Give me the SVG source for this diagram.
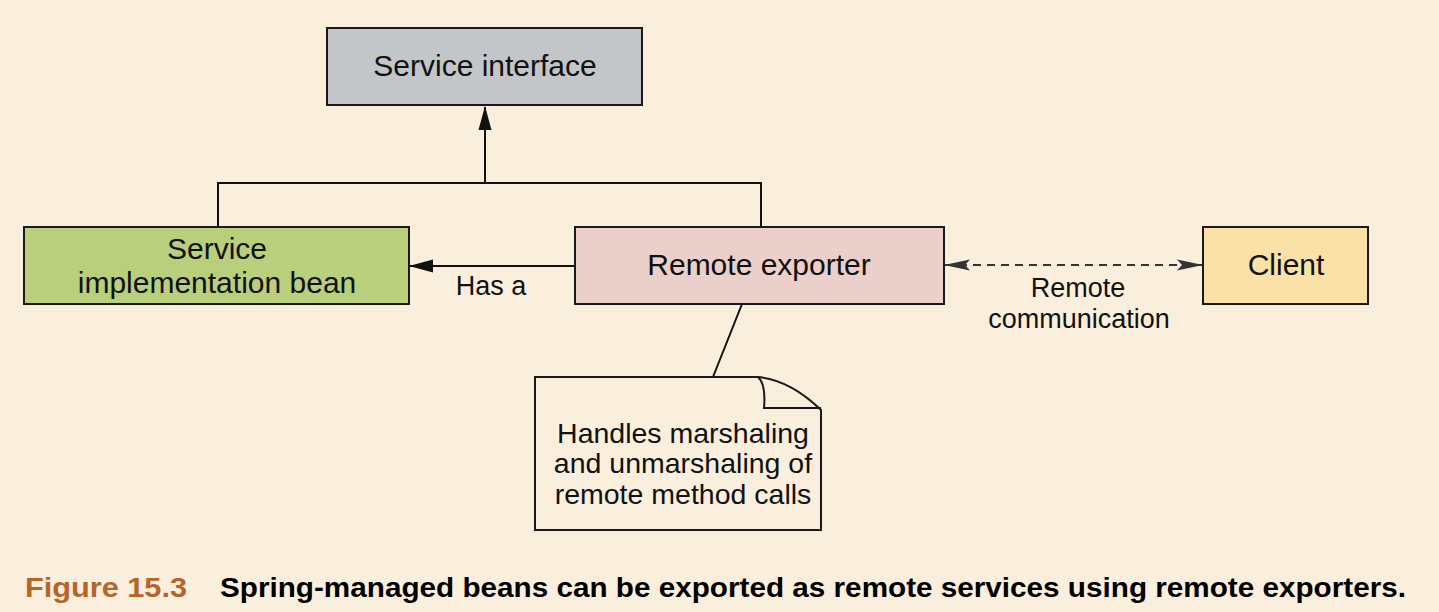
<svg xmlns="http://www.w3.org/2000/svg" width="1439" height="612" viewBox="0 0 1439 612">
<style>
.box{stroke:#1a1a1a;stroke-width:2}
.t{font-family:"Liberation Sans",Arial,sans-serif;font-size:30px;fill:#111;text-anchor:middle}
.s{font-family:"Liberation Sans",Arial,sans-serif;font-size:27px;fill:#111;text-anchor:middle}
.n{font-family:"Liberation Sans",Arial,sans-serif;font-size:28.5px;fill:#111;text-anchor:middle}
.ln{stroke:#111;stroke-width:2;fill:none}
.cap{font-family:"Liberation Sans Narrow","Liberation Sans",Arial,sans-serif;font-weight:bold;font-size:28px}
</style>
<defs>
<marker id="ah" markerWidth="24" markerHeight="14" refX="23" refY="7" orient="auto" markerUnits="userSpaceOnUse">
<path d="M0,0.5 L24,7 L0,13.5 Z" fill="#111"/>
</marker>
<marker id="ad" markerWidth="26" markerHeight="14" refX="25" refY="7" orient="auto-start-reverse" markerUnits="userSpaceOnUse">
<path d="M0,1.5 L26,7 L0,12.5 L5,7 Z" fill="#333"/>
</marker>
</defs>
<rect width="1439" height="612" fill="#faefdc"/>
<g id="connectors">
<path class="ln" d="M218,227 V183 H761 V227"/>
<path class="ln" d="M485,183 V107" marker-end="url(#ah)"/>
<path class="ln" d="M575,266 H410" marker-end="url(#ah)"/>
<path d="M945,265 H1202" stroke="#333" stroke-width="2" stroke-dasharray="8,6" fill="none" marker-start="url(#ad)" marker-end="url(#ad)"/>
<path class="ln" d="M742,304 L713,377" stroke-width="1.5"/>
<text class="s" x="491" y="295">Has a</text>
<text class="s" x="1078" y="297">Remote</text>
<text class="s" x="1079" y="328">communication</text>
</g>
<g id="service-interface">
<rect class="box" x="327" y="28" width="315" height="77" fill="#c3c6c9"/>
<text class="t" x="485" y="76">Service interface</text>
</g>
<g id="service-impl">
<rect class="box" x="24" y="227" width="385" height="77" fill="#b9cf7b"/>
<text class="t" x="217" y="259">Service</text>
<text class="t" x="217" y="293">implementation bean</text>
</g>
<g id="remote-exporter">
<rect class="box" x="575" y="227" width="369" height="77" fill="#ebcfca"/>
<text class="t" x="759" y="275">Remote exporter</text>
</g>
<g id="client">
<rect class="box" x="1203" y="227" width="165" height="77" fill="#f9e1a7"/>
<text class="t" x="1286" y="275">Client</text>
</g>
<g id="note">
<path d="M535,377 H758 Q790,380 821,410 V530 H535 Z" fill="#faefdc" stroke="#1a1a1a" stroke-width="2"/>
<path d="M758,377 Q766,384 764,408 H821" fill="none" stroke="#1a1a1a" stroke-width="2"/>
<text class="n" x="683" y="443">Handles marshaling</text>
<text class="n" x="683" y="473">and unmarshaling of</text>
<text class="n" x="683" y="504">remote method calls</text>
</g>
<g id="caption">
<text class="cap" x="25" y="597" fill="#b5652a" textLength="162" lengthAdjust="spacingAndGlyphs">Figure 15.3</text>
<text class="cap" x="220" y="597" fill="#000" textLength="1186" lengthAdjust="spacingAndGlyphs">Spring-managed beans can be exported as remote services using remote exporters.</text>
</g>
</svg>
